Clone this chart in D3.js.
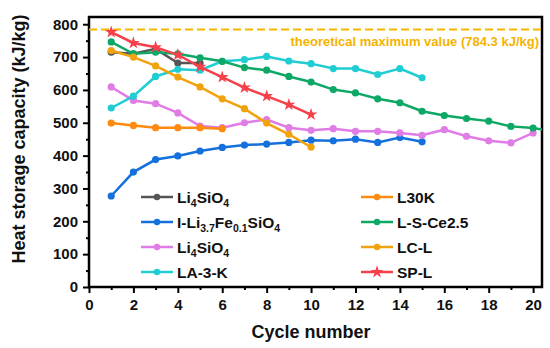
<!DOCTYPE html>
<html>
<head>
<meta charset="utf-8">
<title>heat-storage-cycles</title>
<script src="https://cdn.jsdelivr.net/npm/d3@7"></script>
<style>
  body { margin: 0; background: #fff; }
  text { font-family: Arial, "Liberation Sans", sans-serif; font-weight: bold; }
</style>
</head>
<body>
<div id="app"></div>
<script>
// values
var liGray   = [715, 710, 725, 682, 682];
var liFe     = [277, 350, 388, 399, 414, 425, 432, 435, 440, 447, 445, 450, 440, 455, 442];
var liPink   = [609, 568, 558, 530, 490, 485, 500, 510, 485, 477, 482, 474, 474, 469, 462, 479, 459, 445, 439, 469];
var la3k     = [545, 581, 641, 663, 660, 687, 692, 702, 688, 680, 665, 665, 647, 665, 637];
var l30k     = [499, 492, 485, 485, 485, 482];
var lsce     = [746, 710, 715, 710, 698, 687, 668, 660, 641, 624, 601, 591, 573, 561, 535, 522, 513, 505, 489, 484, 472];
var lcl      = [720, 700, 673, 639, 609, 573, 543, 499, 465, 426];
var spl      = [776, 743, 730, 707, 670, 639, 607, 581, 555, 525];

var xTicks = [0, 2, 4, 6, 8, 10, 12, 14, 16, 18, 20];
var yTicks = [0, 100, 200, 300, 400, 500, 600, 700, 800];
var theoMax = 784.3;

var series = [
  {name: [['Li'], ['4', 1], ['SiO'], ['4', 1]], data: liGray, color: '#555555', col: 0, row: 0},
  {name: [['I-Li'], ['3.7', 1], ['Fe'], ['0.1', 1], ['SiO'], ['4', 1]], data: liFe, color: '#1470dc', col: 0, row: 1},
  {name: [['Li'], ['4', 1], ['SiO'], ['4', 1]], data: liPink, color: '#e07ce6', col: 0, row: 2},
  {name: [['LA-3-K']], data: la3k, color: '#1fcdd3', col: 0, row: 3},
  {name: [['L30K']], data: l30k, color: '#ff8a10', col: 1, row: 0},
  {name: [['L-S-Ce2.5']], data: lsce, color: '#0da866', col: 1, row: 1},
  {name: [['LC-L']], data: lcl, color: '#f2a20c', col: 1, row: 2},
  {name: [['SP-L']], data: spl, color: '#f6404a', col: 1, row: 3, star: true}
];

var W = 550, H = 348;
var m = {left: 89, right: 8, top: 17, bottom: 61};
var iw = W - m.left - m.right, ih = H - m.top - m.bottom;

var svg = d3.select('#app').append('svg').attr('width', W).attr('height', H);

var x = d3.scaleLinear().domain([0, 20.4]).range([0, iw]);
var y = d3.scaleLinear().domain([0, 822]).range([ih, 0]);

var g = svg.append('g').attr('transform', 'translate(' + m.left + ',' + m.top + ')');

g.append('clipPath').attr('id', 'clip')
  .append('rect').attr('width', iw).attr('height', ih);

// minor ticks
g.append('g').attr('transform', 'translate(0,' + ih + ')')
  .call(d3.axisBottom(x).tickValues(d3.range(1, 21, 2)).tickSize(3).tickFormat(''))
  .call(function (s) { s.select('.domain').remove(); s.selectAll('line').attr('stroke-width', 2); });
g.append('g')
  .call(d3.axisLeft(y).tickValues(d3.range(50, 820, 100)).tickSize(3).tickFormat(''))
  .call(function (s) { s.select('.domain').remove(); s.selectAll('line').attr('stroke-width', 2); });

// major ticks
g.append('g').attr('transform', 'translate(0,' + ih + ')')
  .call(d3.axisBottom(x).tickValues(xTicks).tickSize(6).tickPadding(6))
  .call(function (s) {
    s.select('.domain').remove();
    s.selectAll('line').attr('stroke-width', 2);
    s.selectAll('text').attr('font-size', 15).attr('fill', '#111');
  });
g.append('g')
  .call(d3.axisLeft(y).tickValues(yTicks).tickSize(6).tickPadding(5))
  .call(function (s) {
    s.select('.domain').remove();
    s.selectAll('line').attr('stroke-width', 2);
    s.selectAll('text').attr('font-size', 15).attr('fill', '#111');
  });

// frame
g.append('rect').attr('width', iw).attr('height', ih)
  .attr('fill', 'none').attr('stroke', '#000').attr('stroke-width', 2.5);

// theoretical maximum
g.append('line')
  .attr('x1', 0).attr('x2', iw).attr('y1', y(theoMax)).attr('y2', y(theoMax))
  .attr('stroke', '#f7b500').attr('stroke-width', 2).attr('stroke-dasharray', '8,4');
g.append('text')
  .attr('x', iw - 3).attr('y', y(theoMax) + 16.5)
  .attr('text-anchor', 'end').attr('font-size', 13).attr('fill', '#f5b300')
  .text('theoretical maximum value (784.3 kJ/kg)');

var plot = g.append('g').attr('clip-path', 'url(#clip)');
var line = d3.line().x(function (d, i) { return x(i + 1); }).y(function (d) { return y(d); });
var star = d3.symbol().type(d3.symbolStar).size(50);

series.forEach(function (s) {
  plot.append('path').datum(s.data)
    .attr('d', line).attr('fill', 'none')
    .attr('stroke', s.color).attr('stroke-width', 2.5);
  if (s.star) {
    plot.selectAll(null).data(s.data).enter().append('path')
      .attr('d', star)
      .attr('transform', function (d, i) { return 'translate(' + x(i + 1) + ',' + y(d) + ')'; })
      .attr('fill', s.color);
  } else {
    plot.selectAll(null).data(s.data).enter().append('circle')
      .attr('cx', function (d, i) { return x(i + 1); })
      .attr('cy', function (d) { return y(d); })
      .attr('r', 3.6).attr('fill', s.color);
  }
});

// legend
var legX = [141, 361], legY = [197, 222, 247, 272];
series.forEach(function (s) {
  var lg = svg.append('g').attr('transform', 'translate(' + legX[s.col] + ',' + legY[s.row] + ')');
  lg.append('line').attr('x1', 0).attr('x2', 32).attr('stroke', s.color).attr('stroke-width', 2.5);
  if (s.star) {
    lg.append('path').attr('d', d3.symbol().type(d3.symbolStar).size(50)).attr('transform', 'translate(16,0)').attr('fill', s.color);
  } else {
    lg.append('circle').attr('cx', 16).attr('r', 3.2).attr('fill', s.color);
  }
  var t = lg.append('text').attr('x', 36).attr('y', 5.5).attr('font-size', 15.5).attr('fill', '#111');
  var shifted = false;
  s.name.forEach(function (p) {
    var sp = t.append('tspan').text(p[0]);
    if (p[1] && !shifted) { sp.attr('dy', 4).attr('font-size', 10.5); shifted = true; }
    else if (p[1]) { sp.attr('font-size', 10.5); }
    else if (shifted) { sp.attr('dy', -4); shifted = false; }
  });
});

// axis titles
svg.append('text')
  .attr('x', m.left + x(10)).attr('y', 338)
  .attr('text-anchor', 'middle').attr('font-size', 18).attr('fill', '#111')
  .text('Cycle number');
svg.append('text')
  .attr('transform', 'translate(25,139) rotate(-90)')
  .attr('text-anchor', 'middle').attr('font-size', 18).attr('fill', '#111')
  .text('Heat storage capacity (kJ/kg)');
</script>
</body>
</html>
